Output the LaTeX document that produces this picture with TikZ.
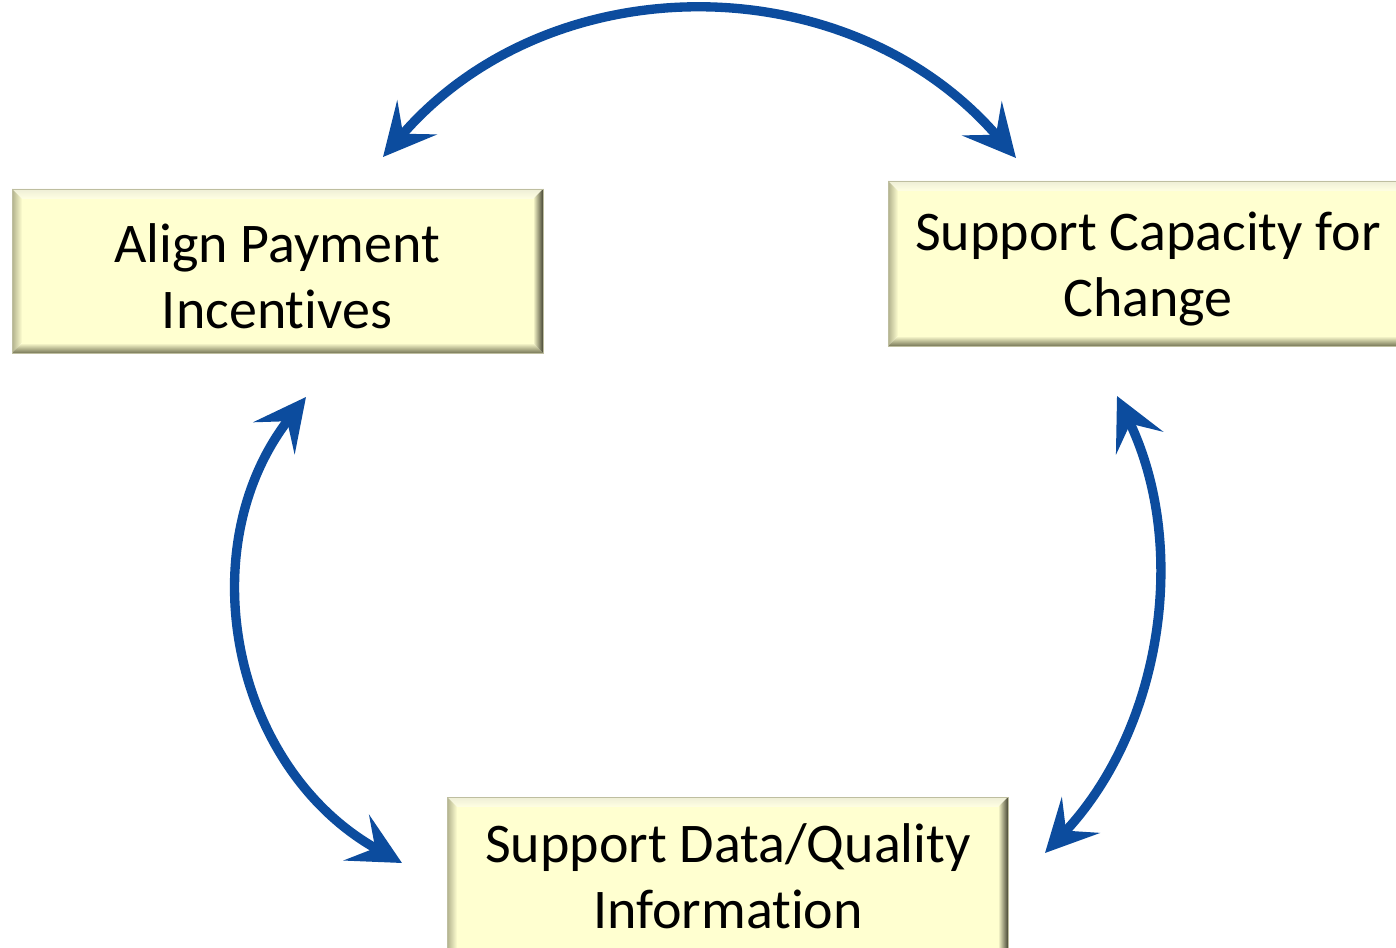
\documentclass[tikz,border=0pt]{standalone}
\usepackage{fontspec}
\setmainfont{Carlito}[Ligatures={NoCommon}]
\usetikzlibrary{arrows.meta}

\definecolor{facecol}{RGB}{255,255,208}
\definecolor{cycblue}{RGB}{12,76,158}
\definecolor{bevdark}{RGB}{70,70,52}
\definecolor{bevbot}{RGB}{120,120,88}
\definecolor{bevleft}{RGB}{176,176,140}
\definecolor{bevtop}{RGB}{238,238,214}
\definecolor{edgecol}{RGB}{190,190,160}

% bevelled box: #1 name, #2 x1, #3 y1, #4 x2, #5 y2 (pixel units)
\newcommand\bevbox[5]{%
  \shade[top color=bevtop, bottom color=facecol!60!white]
    (#2,#3) -- (#4,#3) -- ({#4-10},{#3+10}) -- ({#2+10},{#3+10}) -- cycle;
  \shade[left color=bevleft, right color=facecol]
    (#2,#3) -- ({#2+10},{#3+10}) -- ({#2+10},{#5-10}) -- (#2,#5) -- cycle;
  \shade[top color=facecol, bottom color=bevbot]
    (#2,#5) -- ({#2+10},{#5-10}) -- ({#4-10},{#5-10}) -- (#4,#5) -- cycle;
  \shade[left color=facecol, right color=bevdark]
    (#4,#3) -- (#4,#5) -- ({#4-10},{#5-10}) -- ({#4-10},{#3+10}) -- cycle;
  \fill[facecol] ({#2+10},{#3+10}) rectangle ({#4-10},{#5-10});
  \draw[edgecol, line width=0.6pt] (#2,#3) rectangle (#4,#5);
  \coordinate (#1) at ({(#2+#4)/2},{(#3+#5)/2});
}

\tikzset{
  label text/.style={font=\fontsize{42}{49.5}\selectfont, align=center,
    inner sep=0pt, text=black},
  cychead/.tip={Stealth[length=39pt, width=39pt, inset=16pt]},
  cycarrow/.style={cycblue, line width=7pt, cychead-cychead}
}

\begin{document}
\begin{tikzpicture}[x=0.75pt, y=-0.75pt]
  \useasboundingbox (0,0) rectangle (1396,948);
  \clip (0,0) rectangle (1396,948);
  \fill[white] (0,0) rectangle (1396,948);

  % the three boxes
  \bevbox{payframe}{12}{189}{543}{353}
  \bevbox{capframe}{888}{181}{1408}{346}
  \bevbox{dataframe}{447}{797}{1008}{961}

  \node[label text] (pay) at (277,276) {Align Payment\\Incentives};
  \node[label text] (cap) at (1148,269) {Support Capacity for\\Change};
  \node[label text] (data) at (728,876) {Support Data/Quality\\Information};

  % arrow end points
  \coordinate (topL) at (383,157);
  \coordinate (topR) at (1016,158);
  \coordinate (leftT) at (306,397);
  \coordinate (leftB) at (402,863);
  \coordinate (rightT) at (1117,396);
  \coordinate (rightB) at (1045,853);

  % two-way cycle arrows
  \draw[cycarrow] (topL) .. controls (550,-37) and (849,-36) .. (topR);
  \draw[cycarrow] (leftT) .. controls (188,549) and (233,769) .. (leftB);
  \draw[cycarrow] (rightT) .. controls (1190,548) and (1161,730) .. (rightB);
\end{tikzpicture}
\end{document}
